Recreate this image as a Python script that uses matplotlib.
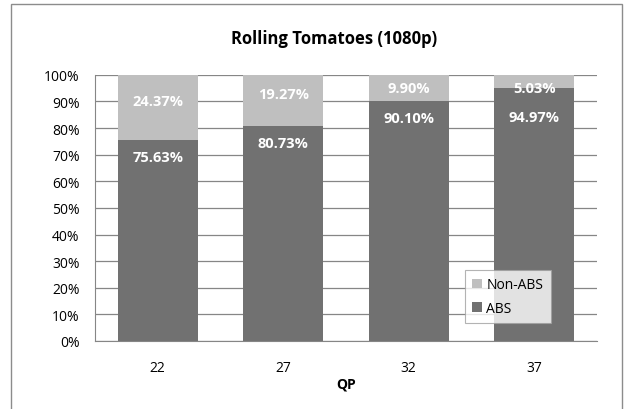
import matplotlib.pyplot as plt
import numpy as np
from matplotlib.patches import Rectangle

plt.rcParams['font.family'] = ['Open Sans', 'DejaVu Sans']

qp = ['22', '27', '32', '37']
abs_pct = [75.63, 80.73, 90.10, 94.97]
non_abs_pct = [24.37, 19.27, 9.90, 5.03]

c_abs = '#717171'
c_non = '#bfbfbf'

fig = plt.figure(figsize=(6.25, 4.1), dpi=100)
ax = fig.add_axes([0.152, 0.166, 0.803, 0.649])

x = np.arange(len(qp))
b1 = ax.bar(x, abs_pct, width=0.64, color=c_abs, label='ABS', zorder=2)
b2 = ax.bar(x, non_abs_pct, width=0.64, bottom=abs_pct, color=c_non, label='Non-ABS', zorder=2)

for i in range(len(qp)):
    # Non-ABS value: a bit above the segment middle, kept inside the plot
    y_non = min(abs_pct[i] + non_abs_pct[i] / 2 + 2.5, 95.2)
    ax.text(x[i], y_non, '%.2f%%' % non_abs_pct[i], ha='center',
            va='center', color='white', fontsize=10.5, fontweight='bold', zorder=3)
    # ABS value just under its top, pushed down when it would hit the label above
    y_abs = min(abs_pct[i] - 6.4, y_non - 11.2)
    ax.text(x[i], y_abs, '%.2f%%' % abs_pct[i], ha='center', va='center',
            color='white', fontsize=10.5, fontweight='bold', zorder=3)

ax.set_xlim(-0.5, 3.5)
ax.set_ylim(0, 100)
ax.set_yticks(range(0, 101, 10))
ax.set_yticklabels(['%d%%' % v for v in range(0, 101, 10)], fontsize=10)
ax.set_xticks(x)
ax.set_xticklabels(qp, fontsize=10)
ax.tick_params(axis='y', length=0, pad=11)
ax.tick_params(axis='x', length=0, pad=14)
ax.yaxis.grid(True, color='#868686', linewidth=0.9, zorder=0)
for s in ['top', 'right']:
    ax.spines[s].set_visible(False)
for s in ['left', 'bottom']:
    ax.spines[s].set_color('#868686')
ax.set_xlabel('QP', fontsize=10, fontweight='bold', labelpad=1)

leg = ax.legend(handles=[b2, b1], loc='lower right', bbox_to_anchor=(0.922, 0.04),
                fontsize=10, frameon=True, fancybox=False, handlelength=0.7,
                handleheight=0.7, handletextpad=0.3, borderpad=0.55, labelspacing=0.6)
leg.get_frame().set_edgecolor('#a0a0a0')
leg.get_frame().set_linewidth(0.8)

fig.text(0.534, 0.905, 'Rolling Tomatoes (1080p)', ha='center', va='center',
         fontsize=12, fontweight='bold')

fig.patches.append(Rectangle((0.017, -0.1), 0.978, 1.088, transform=fig.transFigure,
                             fill=False, edgecolor='#8c8c8c', linewidth=1))

fig.savefig('out.png', dpi=100)
